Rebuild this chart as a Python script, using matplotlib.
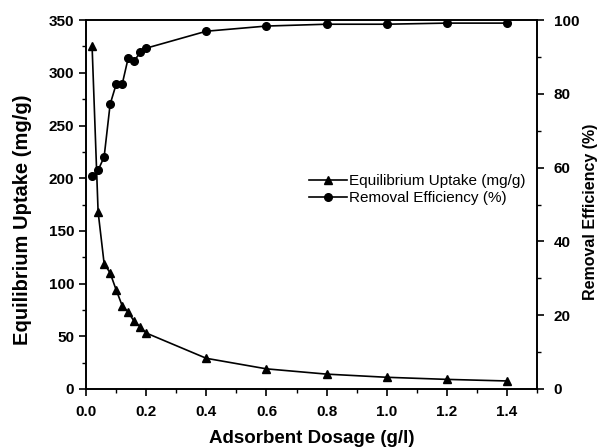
import matplotlib
matplotlib.use("Agg")
import matplotlib.pyplot as plt
from matplotlib.ticker import MultipleLocator
from matplotlib.lines import Line2D

plt.rcParams['font.family'] = ['Liberation Sans', 'DejaVu Sans']

# Adsorbent dosage (g/l)
dosage = [0.02, 0.04, 0.06, 0.08, 0.10, 0.12, 0.14, 0.16, 0.18, 0.20,
          0.40, 0.60, 0.80, 1.00, 1.20, 1.40]
# Equilibrium uptake (mg/g)
uptake = [325, 168, 119, 110, 94, 79, 73, 64, 59, 53,
          29, 19, 14, 11, 9, 7.5]
# Removal efficiency (%)
removal = [57.7, 59.3, 62.9, 77.2, 82.6, 82.6, 89.7, 88.9, 91.3, 92.4,
           97.0, 98.4, 98.9, 98.9, 99.2, 99.2]

x_ticks = [0.0, 0.2, 0.4, 0.6, 0.8, 1.0, 1.2, 1.4]

fig = plt.figure(figsize=(6.02, 4.48), dpi=100)
ax = fig.add_axes([0.143, 0.132, 0.749, 0.823])
ax2 = ax.twinx()

lw = 1.2
ms_tri = 6.0
ms_dot = 5.5
ax.plot(dosage, uptake, color='black', lw=lw, marker='^', ms=ms_tri)
ax2.plot(dosage, removal, color='black', lw=lw, marker='o', ms=ms_dot)

ax.set_xlim(0, 1.5)
ax.set_ylim(0, 350)
ax2.set_ylim(0, 100)

ax.set_xticks(x_ticks)
ax.set_xticklabels([f"{v:.1f}" for v in x_ticks])
ax.xaxis.set_minor_locator(MultipleLocator(0.1))
ax.yaxis.set_major_locator(MultipleLocator(50))
ax.yaxis.set_minor_locator(MultipleLocator(25))
ax2.yaxis.set_major_locator(MultipleLocator(20))
ax2.yaxis.set_minor_locator(MultipleLocator(10))

for a in (ax, ax2):
    for s in a.spines.values():
        s.set_linewidth(1.2)
    a.tick_params(which='major', direction='out', length=5, width=1.2,
                  labelsize=11)
    a.tick_params(which='minor', direction='out', length=3, width=1.0)
    for lab in a.get_xticklabels() + a.get_yticklabels():
        lab.set_fontweight('bold')
ax.tick_params(axis='x', which='major', pad=6.5)
ax2.tick_params(axis='y', which='major', pad=7)

ax.set_xlabel('Adsorbent Dosage (g/l)', fontsize=13.5, fontweight='bold',
              labelpad=8)
ax.set_ylabel('Equilibrium Uptake (mg/g)', fontsize=14.5, fontweight='bold')
ax.yaxis.set_label_coords(-0.12, 0.458)
ax2.set_ylabel('Removal Efficiency (%)', fontsize=11.5, fontweight='bold',
               rotation=90)
ax2.yaxis.set_label_coords(1.103, 0.48)

handles = [
    Line2D([], [], color='black', lw=lw, marker='^', ms=ms_tri),
    Line2D([], [], color='black', lw=lw, marker='o', ms=ms_dot),
]
ax2.legend(handles, ['Equilibrium Uptake (mg/g)', 'Removal Efficiency (%)'],
           loc='upper left', bbox_to_anchor=(0.48, 0.599), frameon=False,
           fontsize=11, handlelength=2.5, handletextpad=0.15,
           labelspacing=0.18, borderaxespad=0)

fig.savefig('out.png', dpi=100)
